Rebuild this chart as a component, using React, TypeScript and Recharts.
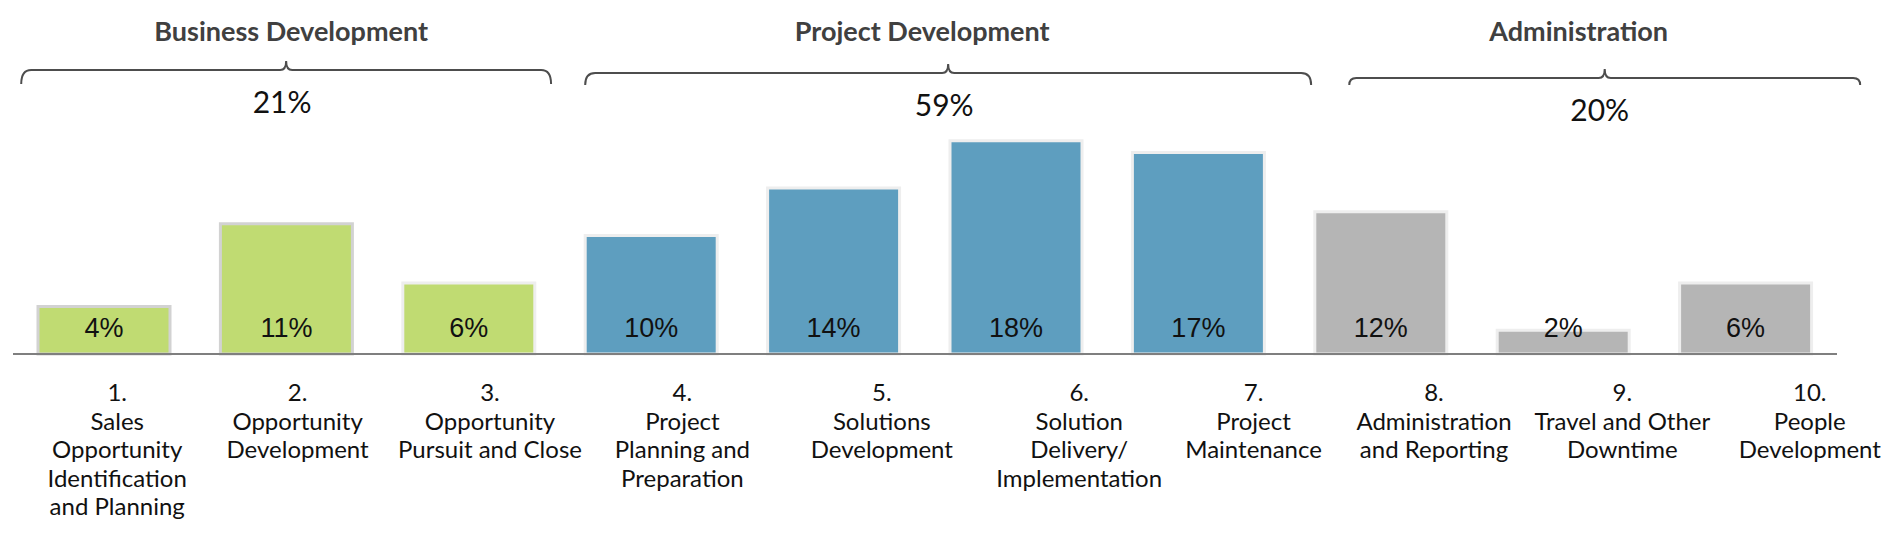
import { BarChart, Bar, XAxis, YAxis, Cell, LabelList } from "recharts";

// categories, split into the lines shown under each bar
const CATEGORY_LINES = [
  ["1.", "Sales", "Opportunity", "Identification", "and Planning"],
  ["2.", "Opportunity", "Development"],
  ["3.", "Opportunity", "Pursuit and Close"],
  ["4.", "Project", "Planning and", "Preparation"],
  ["5.", "Solutions", "Development"],
  ["6.", "Solution", "Delivery/", "Implementation"],
  ["7.", "Project", "Maintenance"],
  ["8.", "Administration", "and Reporting"],
  ["9.", "Travel and Other", "Downtime"],
  ["10.", "People", "Development"],
];
const CATEGORIES = CATEGORY_LINES.map((l) => l.join(" "));
const VALUES = [4, 11, 6, 10, 14, 18, 17, 12, 2, 6];
const GROUP_OF = [0, 0, 0, 1, 1, 1, 1, 2, 2, 2];
const GROUP_TITLES = ["Business Development", "Project Development", "Administration"];
const GROUP_TOTALS = ["21%", "59%", "20%"];

const data = CATEGORIES.map((name, i) => ({ name, value: VALUES[i], group: GROUP_OF[i] }));

// layout
const W = 1884;
const H = 533;
const MARGIN = { top: 109, right: 55, bottom: 7, left: 5 };
const BAND = (W - MARGIN.left - MARGIN.right) / VALUES.length;
const FILLS = ["#C0DB72", "#5E9EBF", "#B5B5B5"];
const LABEL_SHIFT = [13, 11, 21, 31, 48, 63, 55, 53, 59, 64];
// braces in category units, plus their line height / drop
const BRACE_SPAN = [[0.045, 2.95], [3.137, 7.117], [7.326, 10.127]];
const BRACE_Y = [62, 65, 70];
const BRACE_DROP = [14, 12, 7];
const TITLE_SHIFT = [5, -26, -26];
const TOTAL_SHIFT = [-4, -4, -5];

function CategoryTick(props: any) {
  const { x, y, payload } = props;
  const i = CATEGORIES.indexOf(payload.value);
  const cx = x + LABEL_SHIFT[i];
  return (
    <text x={cx} y={y + 47} textAnchor="middle" fontFamily="Lato" fontSize={24} fill="#111">
      {CATEGORY_LINES[i].map((line, k) => (
        <tspan key={k} x={cx} dy={k === 0 ? 0 : 28.5}>
          {line}
        </tspan>
      ))}
    </text>
  );
}

const renderBarLabel = (p: any) => (
  <text
    x={p.x + p.width / 2}
    y={p.y + p.height - 17}
    textAnchor="middle"
    fontFamily="Liberation Sans, Arial"
    fontSize={27}
    fill="#111"
  >
    {p.value}%
  </text>
);

function Braces() {
  return (
    <svg width={W} height={140} style={{ position: "absolute", left: 0, top: 0 }}>
      {GROUP_TITLES.map((title, g) => {
        const x1 = MARGIN.left + BAND * BRACE_SPAN[g][0];
        const x2 = MARGIN.left + BAND * BRACE_SPAN[g][1];
        const xc = (x1 + x2) / 2;
        const yl = BRACE_Y[g];
        const drop = BRACE_DROP[g];
        const r = Math.min(10, drop);
        const d =
          `M${x1},${yl + drop} Q${x1},${yl} ${x1 + r},${yl} L${xc - 6},${yl} ` +
          `Q${xc},${yl} ${xc},${yl - 9} Q${xc},${yl} ${xc + 6},${yl} ` +
          `L${x2 - r},${yl} Q${x2},${yl} ${x2},${yl + drop}`;
        return (
          <g key={title}>
            <text x={xc + TITLE_SHIFT[g]} y={33} textAnchor="middle" fontFamily="Lato" fontWeight="bold" fontSize={27} fill="#404040">
              {title}
            </text>
            <path d={d} fill="none" stroke="#4d4d4d" strokeWidth={2} />
            <text x={xc + TOTAL_SHIFT[g]} y={yl + 43} textAnchor="middle" fontFamily="Lato" fontSize={30} fill="#111">
              {GROUP_TOTALS[g]}
            </text>
          </g>
        );
      })}
    </svg>
  );
}

export default function App() {
  return (
    <div style={{ position: "relative", width: W, height: H, background: "#fff" }}>
      <BarChart width={W} height={H} data={data} margin={MARGIN} barSize={132}>
        <YAxis hide domain={[0, 20]} />
        <XAxis
          dataKey="name"
          interval={0}
          height={180}
          tickLine={false}
          tickSize={0}
          tickMargin={0}
          axisLine={{ stroke: "#7f7f7f", strokeWidth: 2 }}
          tick={<CategoryTick />}
        />
        <Bar dataKey="value" isAnimationActive={false} strokeWidth={3}>
          {data.map((d, i) => (
            <Cell key={i} fill={FILLS[d.group]} stroke={i < 2 ? "#d2d2d2" : "#eeeeee"} />
          ))}
          <LabelList dataKey="value" content={renderBarLabel} />
        </Bar>
      </BarChart>
      <Braces />
    </div>
  );
}
